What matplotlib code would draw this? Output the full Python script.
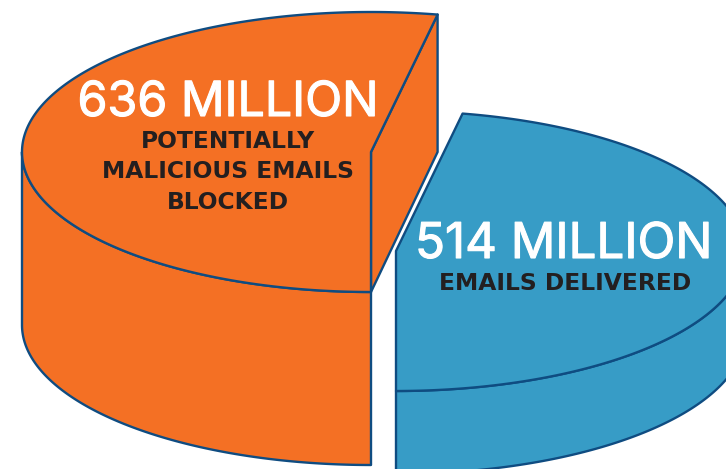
import numpy as np
import matplotlib
matplotlib.use("Agg")
import matplotlib.pyplot as plt
import matplotlib.patheffects as pe

# values
headlines = ["636 MILLION", "514 MILLION"]
captions = ["POTENTIALLY\nMALICIOUS EMAILS\nBLOCKED", "EMAILS DELIVERED"]
slice_degrees = [191, 169]
slice_colors = ["#F47024", "#379CC6"]
edge_color = "#0F4C81"

# ellipse size and depth of each slice, in pixels
rx, ry = 349, 140
depths = [173, 83]
centers = [(371, 152), (396, 251)]


def arc(cx, cy, a0, a1, n=200):
    t = np.radians(np.linspace(a0, a1, n))
    return cx + rx * np.cos(t), cy - ry * np.sin(t)


def draw_slice(ax, cx, cy, a0, a1, depth, color):
    kw = dict(facecolor=color, edgecolor=edge_color, linewidth=1.7, joinstyle="round")
    # outer wall, only the part that faces the viewer
    if a0 < 0:
        x, y = arc(cx, cy, a0, 0)
    else:
        x, y = arc(cx, cy, 180, a1)
    ax.fill(np.r_[x, x[::-1]], np.r_[y, y[::-1] + depth], **kw)
    # cut face on the start side of the orange slice
    if a0 > 0:
        ex, ey = arc(cx, cy, a0, a0, 1)
        ax.fill([cx, ex[0], ex[0], cx], [cy, ey[0], cy, cy + ry], **kw)
    # top
    x, y = arc(cx, cy, a0, a1)
    ax.fill(np.r_[cx, x], np.r_[cy, y], **kw)


fig = plt.figure(figsize=(7.26, 4.69), dpi=100)
ax = fig.add_axes([0, 0, 1, 1])
ax.set_xlim(0, 726)
ax.set_ylim(469, 0)
ax.axis("off")

# both slices meet at the front of the pie, angle 270 / -90
draw_slice(ax, *centers[0], 270 - slice_degrees[0], 270, depths[0], slice_colors[0])
draw_slice(ax, *centers[1], -90, -90 + slice_degrees[1], depths[1], slice_colors[1])

head_kw = dict(color="white", family=["Inter", "DejaVu Sans"], ha="center", va="center",
               path_effects=[pe.withStroke(linewidth=0.8, foreground="white")])
cap_kw = dict(color="#231F20", fontsize=16.8, fontweight="bold", family=["DejaVu Sans"],
              ha="center", va="center", linespacing=1.42)
ax.text(228, 103, headlines[0], fontsize=34.8, **head_kw)
ax.text(228, 172, captions[0], **cap_kw)
ax.text(564, 245, headlines[1], fontsize=35.5, **head_kw)
ax.text(565, 283, captions[1], **cap_kw)

fig.savefig("out.png", dpi=100)
